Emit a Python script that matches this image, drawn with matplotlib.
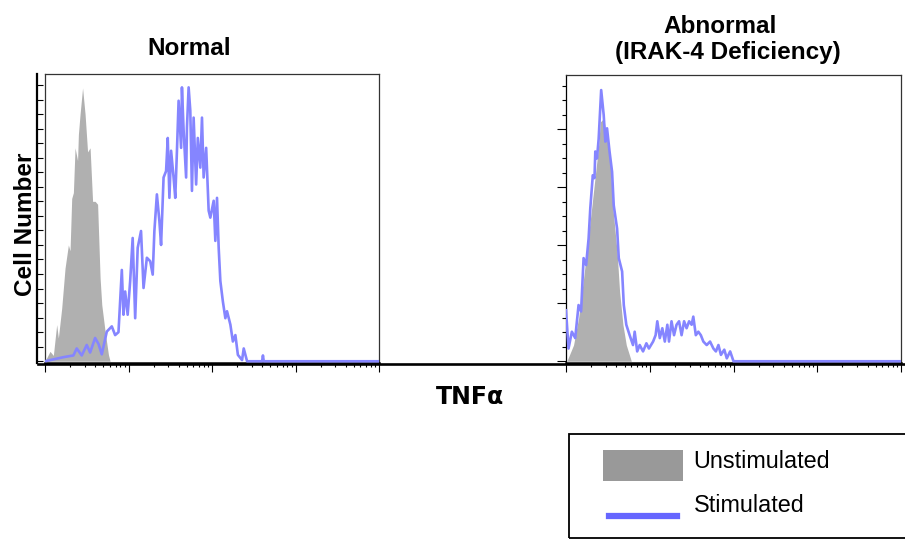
import matplotlib.pyplot as plt
import numpy as np
from matplotlib.lines import Line2D
from matplotlib.patches import Rectangle
from matplotlib.ticker import LogLocator, MultipleLocator, NullFormatter

# TNFa intensity in log10 decades, counts in axis units (0 .. ~5)
normal_unstim_dec = [0.00, 0.06, 0.10, 0.14, 0.16, 0.20, 0.24, 0.28, 0.30, 0.32, 0.34, 0.36, 0.39, 0.40,
                     0.42, 0.45, 0.48, 0.51, 0.54, 0.57, 0.60, 0.63, 0.66, 0.68, 0.72, 0.76, 0.78]
normal_unstim_cnt = [0.00, 0.17, 0.10, 0.63, 0.40, 0.91, 1.60, 2.00, 1.90, 2.80, 2.90, 3.67, 3.45, 3.90,
                     4.25, 4.70, 4.25, 3.60, 3.67, 2.75, 2.75, 2.70, 1.43, 0.97, 0.51, 0.11, 0.00]

normal_stim_dec = [0.00, 0.22, 0.34, 0.38, 0.44, 0.50, 0.54, 0.60, 0.64, 0.68, 0.74, 0.80, 0.84, 0.88,
                   0.92, 0.94, 0.96, 0.99, 1.02, 1.05, 1.08, 1.11, 1.15, 1.18, 1.22, 1.26, 1.29, 1.31,
                   1.34, 1.37, 1.39, 1.42, 1.45, 1.47, 1.49, 1.51, 1.54, 1.56, 1.58, 1.60, 1.63, 1.64,
                   1.66, 1.69, 1.70, 1.72, 1.74, 1.76, 1.78, 1.81, 1.83, 1.86, 1.88, 1.90, 1.93, 1.96,
                   1.98, 2.02, 2.04, 2.06, 2.08, 2.10, 2.13, 2.16, 2.18, 2.22, 2.25, 2.28, 2.31, 2.36,
                   2.38, 2.42, 2.60, 2.61, 2.62, 4.00]
normal_stim_cnt = [0.00, 0.07, 0.10, 0.22, 0.10, 0.28, 0.15, 0.40, 0.30, 0.12, 0.51, 0.60, 0.45, 0.50,
                   1.57, 0.80, 1.20, 0.80, 1.38, 2.12, 0.74, 1.95, 2.24, 1.26, 1.78, 1.72, 1.49, 2.24,
                   2.87, 2.41, 2.00, 3.16, 3.27, 3.84, 2.81, 3.62, 3.16, 2.81, 3.61, 4.48, 3.67, 4.71,
                   3.97, 3.16, 4.02, 4.71, 4.31, 2.93, 4.19, 3.04, 3.84, 3.33, 4.19, 3.16, 3.67, 2.59,
                   2.47, 2.76, 2.07, 2.81, 1.95, 1.38, 1.03, 0.74, 0.86, 0.63, 0.34, 0.45, 0.11, 0.02,
                   0.22, 0.00, 0.00, 0.10, 0.00, 0.00]

irak4_unstim_dec = [0.01, 0.09, 0.15, 0.21, 0.27, 0.31, 0.35, 0.39, 0.41, 0.45, 0.49, 0.53, 0.56, 0.61,
                    0.64, 0.68, 0.72, 0.77, 0.78]
irak4_unstim_cnt = [0.00, 0.28, 0.74, 1.43, 2.18, 2.69, 3.21, 3.73, 4.13, 4.19, 3.84, 3.38, 2.64, 1.89,
                    1.20, 0.63, 0.28, 0.05, 0.00]

irak4_stim_dec = [0.00, 0.03, 0.07, 0.11, 0.15, 0.18, 0.21, 0.24, 0.27, 0.29, 0.32, 0.34, 0.35, 0.37,
                  0.39, 0.42, 0.45, 0.47, 0.49, 0.52, 0.55, 0.57, 0.61, 0.63, 0.67, 0.69, 0.72, 0.76,
                  0.80, 0.82, 0.85, 0.88, 0.92, 0.96, 0.99, 1.04, 1.07, 1.09, 1.12, 1.15, 1.18, 1.21,
                  1.23, 1.26, 1.29, 1.32, 1.35, 1.38, 1.41, 1.44, 1.47, 1.50, 1.52, 1.55, 1.58, 1.61,
                  1.64, 1.68, 1.72, 1.76, 1.79, 1.82, 1.85, 1.89, 1.92, 1.96, 2.00, 2.04, 4.00]
irak4_stim_cnt = [0.88, 0.22, 0.51, 0.40, 0.97, 0.86, 1.78, 1.66, 2.12, 2.64, 3.21, 3.16, 3.62, 3.50,
                  3.84, 4.68, 4.25, 3.79, 4.02, 3.62, 3.27, 2.69, 2.29, 1.78, 1.55, 0.97, 0.63, 0.45,
                  0.28, 0.51, 0.17, 0.28, 0.17, 0.31, 0.22, 0.34, 0.45, 0.69, 0.40, 0.57, 0.34, 0.63,
                  0.34, 0.69, 0.45, 0.63, 0.69, 0.45, 0.69, 0.57, 0.69, 0.63, 0.77, 0.45, 0.51, 0.45,
                  0.34, 0.28, 0.34, 0.22, 0.17, 0.28, 0.11, 0.20, 0.05, 0.17, 0.00, 0.00, 0.00]

GRAY = '#b0b0b0'
BLUE = '#8585ff'
W, H = 905, 539


def px(x, y):
    # pixel position -> figure fraction
    return x / W, 1 - y / H


fig = plt.figure(figsize=(W / 100, H / 100), dpi=100)
plt.rcParams['font.family'] = ['Liberation Sans', 'DejaVu Sans']

ax1 = fig.add_axes([45 / W, 1 - 363 / H, 334 / W, 289 / H])
ax2 = fig.add_axes([566 / W, 1 - 363 / H, 335 / W, 288 / H])

panels = [(ax1, normal_unstim_dec, normal_unstim_cnt, normal_stim_dec, normal_stim_cnt),
          (ax2, irak4_unstim_dec, irak4_unstim_cnt, irak4_stim_dec, irak4_stim_cnt)]
for ax, ud, uc, sd, sc in panels:
    ax.fill_between(10 ** np.array(ud), uc, color=GRAY, lw=0, zorder=2)
    ax.plot(10 ** np.array(sd), sc, color=BLUE, lw=1.9, zorder=3)
    ax.set_xscale('log')
    ax.set_xlim(1, 1e4)
    ax.set_ylim(-0.03, 4.94)
    ax.xaxis.set_major_locator(LogLocator(base=10))
    ax.xaxis.set_minor_locator(LogLocator(base=10, subs=np.arange(2, 10)))
    ax.xaxis.set_major_formatter(NullFormatter())
    ax.xaxis.set_minor_formatter(NullFormatter())
    ax.yaxis.set_major_locator(MultipleLocator(1))
    ax.yaxis.set_minor_locator(MultipleLocator(0.25))
    ax.yaxis.set_major_formatter(NullFormatter())
    ax.tick_params(axis='x', which='major', direction='out', length=6.5, width=0.8)
    ax.tick_params(axis='x', which='minor', direction='out', length=3, width=0.8)
    for side in ['top', 'right']:
        ax.spines[side].set_linewidth(0.9)
        ax.spines[side].set_color('#333333')
    ax.spines['bottom'].set_linewidth(1.8)

# left panel: y axis drawn a bit outside the frame, ticks pointing in
ax1.spines['left'].set_position(('outward', 6))
ax1.spines['left'].set_linewidth(1.6)
ax1.tick_params(axis='y', which='both', direction='in', length=4.5, width=0.8)
ax1.plot([0, 0], [0, 1], transform=ax1.transAxes, color='#333333', lw=0.9, clip_on=False)

ax2.spines['left'].set_linewidth(0.9)
ax2.tick_params(axis='y', which='major', direction='out', length=6.5, width=0.8)
ax2.tick_params(axis='y', which='minor', direction='out', length=3, width=0.8)

# long baseline running under both panels
fig.add_artist(Line2D([38 / W, 1], [1 - 363.5 / H] * 2, color='black', lw=1.9, zorder=10))

# titles and axis labels
fig.text(*px(189, 55), 'Normal', ha='center', va='baseline', fontsize=17.5, fontweight='bold')
fig.text(*px(720, 33), 'Abnormal', ha='center', va='baseline', fontsize=17.5, fontweight='bold')
fig.text(*px(728, 59), '(IRAK-4 Deficiency)', ha='center', va='baseline', fontsize=17.5,
         fontweight='bold')
fig.text(*px(25, 224), 'Cell Number', rotation=90, ha='center', va='center', fontsize=17.5,
         fontweight='bold')
fig.text(*px(470, 404), 'TNFα', ha='center', va='baseline', fontsize=17, fontweight='bold',
         family=['DejaVu Sans'])

# legend box
x0, y0 = px(569, 538)
x1, y1 = px(910, 434)
fig.add_artist(Rectangle((x0, y0), x1 - x0, y1 - y0, fill=False, ec='black', lw=1.3))
gx0, gy0 = px(603, 481)
gx1, gy1 = px(683, 450)
fig.add_artist(Rectangle((gx0, gy0), gx1 - gx0, gy1 - gy0, fc='#999999', ec='none'))
fig.add_artist(Line2D([609 / W, 677 / W], [1 - 516 / H] * 2, color='#6666ff', lw=4.5))
fig.text(*px(693, 468), 'Unstimulated', ha='left', va='baseline', fontsize=16.8)
fig.text(*px(694, 512), 'Stimulated', ha='left', va='baseline', fontsize=16.8)

fig.savefig('out.png', dpi=100)
